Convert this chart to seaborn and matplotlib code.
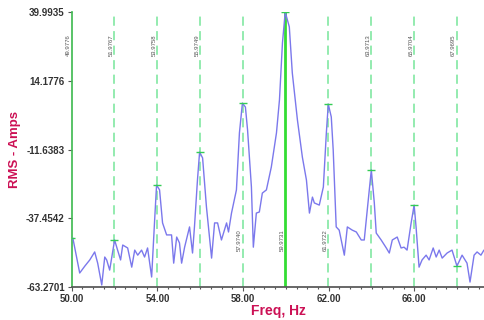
import numpy as np
import pandas as pd
import matplotlib
matplotlib.use("Agg")
import matplotlib.pyplot as plt
import seaborn as sns
from matplotlib.ticker import MultipleLocator, FixedLocator

sns.set_theme(style="white")
plt.rcParams['font.family'] = ['Liberation Sans', 'DejaVu Sans']

# spectrum trace
freq = [50.05, 50.37, 50.61, 50.84, 51.07, 51.21, 51.40, 51.54, 51.63, 51.77,
        52.00, 52.14, 52.28, 52.38, 52.61, 52.80, 52.94, 53.08, 53.26, 53.40,
        53.54, 53.73, 53.87, 53.96, 54.10, 54.24, 54.43, 54.66, 54.76, 54.90,
        55.03, 55.13, 55.27, 55.50, 55.64, 55.73, 55.87, 55.97, 56.11, 56.29,
        56.53, 56.67, 56.81, 56.99, 57.23, 57.32, 57.46, 57.69, 57.83, 57.97,
        58.11, 58.21, 58.39, 58.48, 58.62, 58.76, 58.90, 59.09, 59.32, 59.56,
        59.70, 59.84, 59.97, 60.16, 60.30, 60.54, 60.77, 60.96, 61.10, 61.24,
        61.33, 61.56, 61.75, 61.89, 61.98, 62.12, 62.21, 62.35, 62.49, 62.73,
        62.87, 63.10, 63.29, 63.52, 63.66, 63.80, 63.99, 64.13, 64.22, 64.45,
        64.69, 64.83, 64.97, 65.20, 65.38, 65.52, 65.66, 65.85, 65.99, 66.08,
        66.22, 66.36, 66.55, 66.69, 66.88, 67.02, 67.16, 67.30, 67.53, 67.76,
        67.99, 68.23, 68.46, 68.60, 68.79, 68.93, 69.11, 69.25]
amps = [-44.9, -58.0, -55.4, -53.1, -50.1, -54.3, -62.5, -52.0, -53.1, -56.9,
        -45.6, -49.4, -53.1, -47.5, -48.6, -55.8, -49.4, -51.3, -49.4, -52.0,
        -48.6, -59.5, -38.1, -25.0, -26.8, -39.2, -43.7, -43.7, -54.3, -44.5,
        -46.7, -54.3, -48.3, -40.7, -50.5, -40.7, -23.1, -12.6, -14.8, -33.2,
        -52.4, -39.2, -39.2, -45.6, -39.2, -42.6, -35.5, -26.8, -5.4, 5.8,
        4.3, -4.3, -25.7, -48.3, -35.5, -35.1, -28.0, -26.8, -18.2, -5.4,
        7.0, 28.4, 39.99, 34.4, 17.1, -0.6, -14.5, -23.1, -35.5, -29.5,
        -31.7, -32.5, -25.7, -5.4, 5.4, 0.6, -11.8, -40.7, -41.9, -51.3,
        -40.7, -41.9, -42.6, -45.6, -45.6, -34.4, -19.3, -31.7, -43.0, -45.6,
        -48.6, -50.5, -45.6, -44.5, -48.6, -48.3, -49.4, -39.2, -32.5, -40.7,
        -55.8, -53.1, -51.3, -53.1, -48.6, -52.0, -49.4, -52.4, -50.5, -49.4,
        -55.4, -51.3, -54.3, -61.4, -51.3, -50.1, -51.3, -49.4]

# harmonic cursor lines and their peak values
cursor_freq = [49.9776, 51.9767, 53.9758, 55.9749, 57.9740, 59.9731,
               61.9722, 63.9713, 65.9704, 67.9695]
cursor_amp = [-44.9, -45.6, -25.0, -12.6, 5.8, 39.9935,
              5.4, -19.3, -32.5, -55.4]
label_low = [57.9740, 59.9731, 61.9722]

y_ticks = [-63.2701, -37.4542, -11.6383, 14.1776, 39.9935]
x_ticks = [50, 54, 58, 62, 66]

df = pd.DataFrame({'freq': freq, 'amp': amps})

fig = plt.figure(figsize=(4.85, 3.2), dpi=100)
ax = fig.add_axes([0.148, 0.103, 0.852, 0.8595])

for f in cursor_freq:
    if abs(f - 59.9731) < 1e-6:
        ax.axvline(f, color='#33dd33', lw=2.0, zorder=1)
    else:
        ax.axvline(f, color='#77e69a', lw=1.1, dashes=(6, 3.5), zorder=1)
    ypos = 0.17 if f in label_low else 0.88
    ax.text(f - 0.13, ypos, f"{f:.4f}", rotation=90, transform=ax.get_xaxis_transform(),
            ha='center', va='center', fontsize=4.3, color='#555555')

sns.lineplot(data=df, x='freq', y='amp', ax=ax, color='#7b78ec', lw=1.0, zorder=3)
ax.scatter(cursor_freq, cursor_amp, marker='_', s=30, color='#33cc55', lw=1.0, zorder=4)

ax.set_xlim(50, 69.3)
ax.set_ylim(y_ticks[0], y_ticks[-1])
ax.xaxis.set_major_locator(FixedLocator(x_ticks))
ax.xaxis.set_minor_locator(MultipleLocator(0.5))
ax.set_xticklabels([f"{v:.2f}" for v in x_ticks])
ax.set_yticks(y_ticks)
ax.set_yticklabels([f"{v:.4f}" for v in y_ticks])

for s in ['top', 'right']:
    ax.spines[s].set_visible(False)
ax.spines['left'].set_color('#44bb55')
ax.spines['bottom'].set_color('#555555')

ax.tick_params(axis='both', which='major', direction='out', length=3, width=0.8,
               color='#555555', labelsize=7, labelcolor='#333333', pad=2)
ax.tick_params(axis='x', which='minor', direction='out', length=1.5, width=0.8, color='#555555')
ax.tick_params(axis='x', which='major', pad=2)
ax.tick_params(axis='x', bottom=True, which='both')
ax.tick_params(axis='y', left=True)
for lab in ax.get_xticklabels() + ax.get_yticklabels():
    lab.set_fontweight('bold')

ax.set_xlabel('Freq, Hz', color='#cc1155', fontsize=10, fontweight='bold', labelpad=0)
ax.set_ylabel('RMS - Amps', color='#cc1155', fontsize=9.5, fontweight='bold', labelpad=4)

fig.savefig('out.png', dpi=100)
